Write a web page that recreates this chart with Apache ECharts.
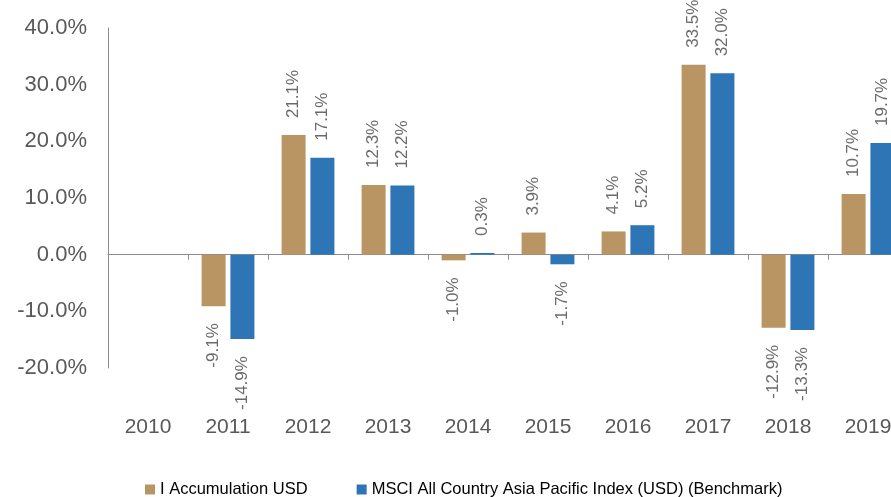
<!DOCTYPE html>
<html>
<head>
<meta charset="utf-8">
<script src="https://cdn.jsdelivr.net/npm/echarts@6/dist/echarts.min.js"></script>
<style>
html,body{margin:0;padding:0;background:#fff;}
#chart{width:891px;height:497px;}
</style>
</head>
<body>
<div id="chart"></div>
<script>
const years = ['2010','2011','2012','2013','2014','2015','2016','2017','2018','2019'];
const fundName = 'I Accumulation USD';
const benchName = 'MSCI All Country Asia Pacific Index (USD) (Benchmark)';
const fundValues = [null, -9.1, 21.1, 12.3, -1.0, 3.9, 4.1, 33.5, -12.9, 10.7];
const benchValues = [null, -14.9, 17.1, 12.2, 0.3, -1.7, 5.2, 32.0, -13.3, 19.7];
const yTicks = [-20, -10, 0, 10, 20, 30, 40];

const labelColor = '#6b6b6b';
function toData(arr) {
  return arr.map(v => {
    if (v === null) return null;
    if (v < 0) return { value: v, label: { position: 'bottom', align: 'right', verticalAlign: 'middle' } };
    return { value: v, label: { position: 'top', align: 'left', verticalAlign: 'middle' } };
  });
}
const labelCfg = {
  show: true, rotate: 90, distance: 17, fontSize: 17, color: labelColor,
  fontFamily: 'Liberation Sans, Arial, sans-serif',
  formatter: p => p.value.toFixed(1) + '%'
};

const chart = echarts.init(document.getElementById('chart'), null, { renderer: 'canvas' });
chart.setOption({
  animation: false,
  grid: { left: 108, top: 28, width: 800, height: 340, containLabel: false, outerBoundsMode: 'none' },
  legend: {
    left: 145, top: 481, padding: 0, itemWidth: 10, itemHeight: 10, itemGap: 49,
    icon: 'rect',
    textStyle: { fontSize: 16.5, color: '#000', fontFamily: 'Liberation Sans, Arial, sans-serif' },
    data: [fundName, benchName]
  },
  xAxis: [
    {
      type: 'category', data: years,
      axisLine: { onZero: true, lineStyle: { color: '#8c8c8c', width: 1 } },
      axisTick: { show: true, length: 5, lineStyle: { color: '#8c8c8c' } },
      axisLabel: { show: false }
    },
    {
      type: 'category', data: years, position: 'bottom',
      axisLine: { show: false, onZero: false },
      axisTick: { show: false },
      axisLabel: { margin: 49, fontSize: 21, color: '#595959', fontFamily: 'Liberation Sans, Arial, sans-serif' }
    }
  ],
  yAxis: {
    type: 'value', min: yTicks[0], max: yTicks[yTicks.length - 1], interval: 10,
    axisLine: { show: true, lineStyle: { color: '#8c8c8c' } },
    axisTick: { show: false },
    splitLine: { show: false },
    axisLabel: {
      margin: 21, fontSize: 22, color: '#595959', fontFamily: 'Liberation Sans, Arial, sans-serif',
      formatter: v => v.toFixed(1) + '%'
    }
  },
  series: [
    {
      name: fundName, type: 'bar', xAxisIndex: 0, barWidth: 24, barGap: '20%',
      itemStyle: { color: '#B99563' }, label: labelCfg, data: toData(fundValues)
    },
    {
      name: benchName, type: 'bar', xAxisIndex: 0, barWidth: 24, barGap: '20%',
      itemStyle: { color: '#2E75B6' }, label: labelCfg, data: toData(benchValues)
    }
  ]
});
</script>
</body>
</html>
